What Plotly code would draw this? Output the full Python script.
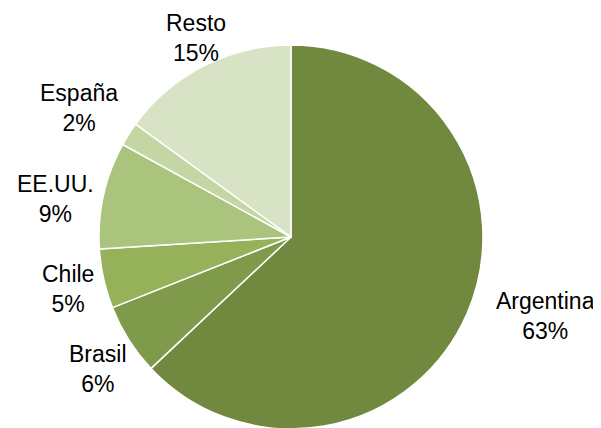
import plotly.graph_objects as go

labels = ["Argentina", "Brasil", "Chile", "EE.UU.", "España", "Resto"]
values = [63, 6, 5, 9, 2, 15]
colors = ["#71893F", "#7E9A4A", "#95B159", "#ABC47D", "#C4D6A4", "#D8E2C5"]
# label block centres (pixels in the 601x428 picture)
label_px = [(545, 316), (98, 369), (68, 289), (55, 199), (79, 108), (196, 34)]

W, H = 601, 428
OFF = 8  # page body margin offset of the figure inside the window
FS = 23
total = sum(values)

fig = go.Figure(go.Pie(
    labels=labels,
    values=values,
    sort=False,
    direction="clockwise",
    rotation=0,
    marker=dict(colors=colors, line=dict(color="white", width=1.5)),
    textinfo="none",
    showlegend=False,
    domain=dict(x=[0.1514, 0.7903], y=[0.0164, 0.9136]),
    hoverinfo="label+percent",
))

half_box = 1.3 * FS  # half height of a two-line label box
for lab, val, (px, py) in zip(labels, values, label_px):
    cy = max(py - OFF, half_box + 0.5)  # keep the label box inside the figure
    fig.add_annotation(
        x=(px - OFF) / W, y=1 - cy / H, xref="paper", yref="paper",
        text=f"{lab}<br>{round(100 * val / total)}%",
        showarrow=False, xanchor="center", yanchor="middle", align="center",
        borderpad=0,
        font=dict(family="Liberation Sans, Arial", size=FS, color="black"),
    )

fig.update_layout(
    width=W, height=H,
    margin=dict(l=0, r=0, t=0, b=0),
    paper_bgcolor="white",
    plot_bgcolor="white",
)

fig.write_html("out.html")
